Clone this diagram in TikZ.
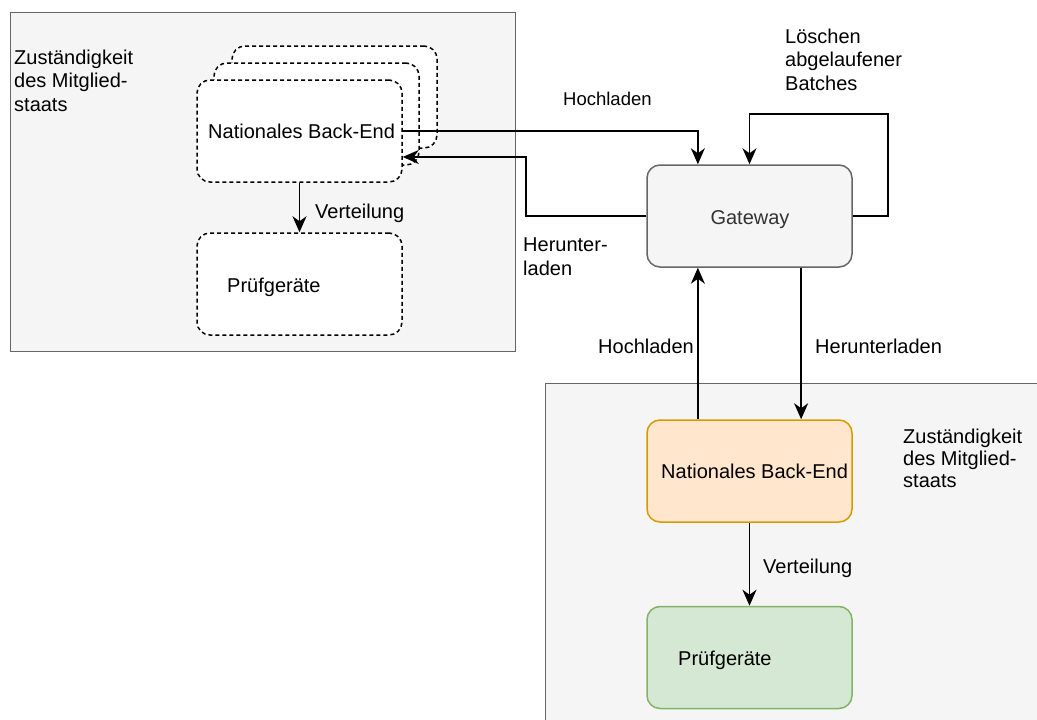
\documentclass[tikz,border=0pt]{standalone}
\usepackage{fontspec}
\setmainfont{Liberation Sans}
\usetikzlibrary{arrows.meta,calc}
\definecolor{contfill}{HTML}{F5F5F5}
\definecolor{contline}{HTML}{666666}
\definecolor{orfill}{HTML}{FFE6CC}
\definecolor{orline}{HTML}{D79B00}
\definecolor{grfill}{HTML}{D5E8D4}
\definecolor{grline}{HTML}{82B366}
\definecolor{gwtext}{HTML}{333333}
\begin{document}
\begin{tikzpicture}[x=1pt,y=-1pt,
  every node/.style={font=\fontsize{20}{23.5}\selectfont},
  box/.style={draw, rounded corners=13pt, minimum width=205pt, minimum height=102pt, line width=1.5pt, inner sep=0pt},
  dbox/.style={box, dash pattern=on 4pt off 3pt, fill=white},
  cont/.style={draw=contline, fill=contfill, line width=1.3pt, inner sep=0pt},
  arr/.style={-{Stealth[length=16pt 0,width=14pt 0,inset=5pt 0]}, line width=1.7pt},
  txt/.style={inner sep=0pt, anchor=base west, align=left}
]
\useasboundingbox (0,0) rectangle (1037,720);
\clip (0,0) rectangle (1037,720);
\fill[white] (0,0) rectangle (1037,720);

% containers
\node[cont, minimum width=505pt, minimum height=339pt, anchor=north west] (c1) at (10,12) {};
\node[cont, minimum width=510pt, minimum height=350pt, anchor=north west] (c2) at (545,383) {};

% boxes
\node[dbox] (be1c) at (334.5,97) {};
\node[dbox] (be1b) at (316.5,114) {};
\node[dbox] (be1) at (299.5,131) {};
\node[dbox] (pg1) at (299.5,284) {};
\node[box, draw=contline, fill=contfill] (gw) at (749.5,216) {};
\node[box, draw=orline, fill=orfill] (be2) at (749.5,471) {};
\node[box, draw=grline, fill=grfill] (pg2) at (749.5,657.5) {};

% box texts
\node[txt] (t1) at (208,138) {Nationales Back-End};
\node[txt] (t2) at (227,292) {Prüfgeräte};
\node[inner sep=0pt, anchor=base, text=gwtext] (t3) at (750,224) {Gateway};
\node[txt] (t4) at (661,478) {Nationales Back-End};
\node[txt] (t5) at (678,665) {Prüfgeräte};

% container labels (base anchor = last line)
\node[txt] (l1) at (14,111) {Zuständigkeit\\des Mitglied-\\staats};
\node[txt, font=\fontsize{20}{22}\selectfont] (l2) at (903,487) {Zuständigkeit\\des Mitglied-\\staats};

% connectors
\draw[arr] (be1.east) -| ($(gw.north west)!0.25!(gw.north east)$);
\draw[arr] (gw.west) -- ++(-120,0) |- ($(be1.east)+(0,26)$);
\draw[arr] (gw.east) -- ++(35,0) -- ++(0,-102) -| (gw.north);
\draw[arr] ($(be2.north west)!0.25!(be2.north east)$) -- ($(gw.south west)!0.25!(gw.south east)$);
\draw[arr] ($(gw.south west)!0.75!(gw.south east)$) -- ($(be2.north west)!0.75!(be2.north east)$);
\draw[arr] (be1.south) -- (pg1.north);
\draw[arr] (be2.south) -- (pg2.north);

% connector labels
\node[txt, font=\fontsize{18.5}{22}\selectfont] (h1) at (563,105) {Hochladen};
\node[txt] (h2) at (523,275) {Herunter-\\laden};
\node[txt] (h3) at (785,90) {Löschen\\abgelaufener\\Batches};
\node[txt] (h4) at (598,353) {Hochladen};
\node[txt] (h5) at (815,353) {Herunterladen};
\node[txt] (v1) at (315,218) {Verteilung};
\node[txt] (v2) at (763,573) {Verteilung};
\end{tikzpicture}
\end{document}
